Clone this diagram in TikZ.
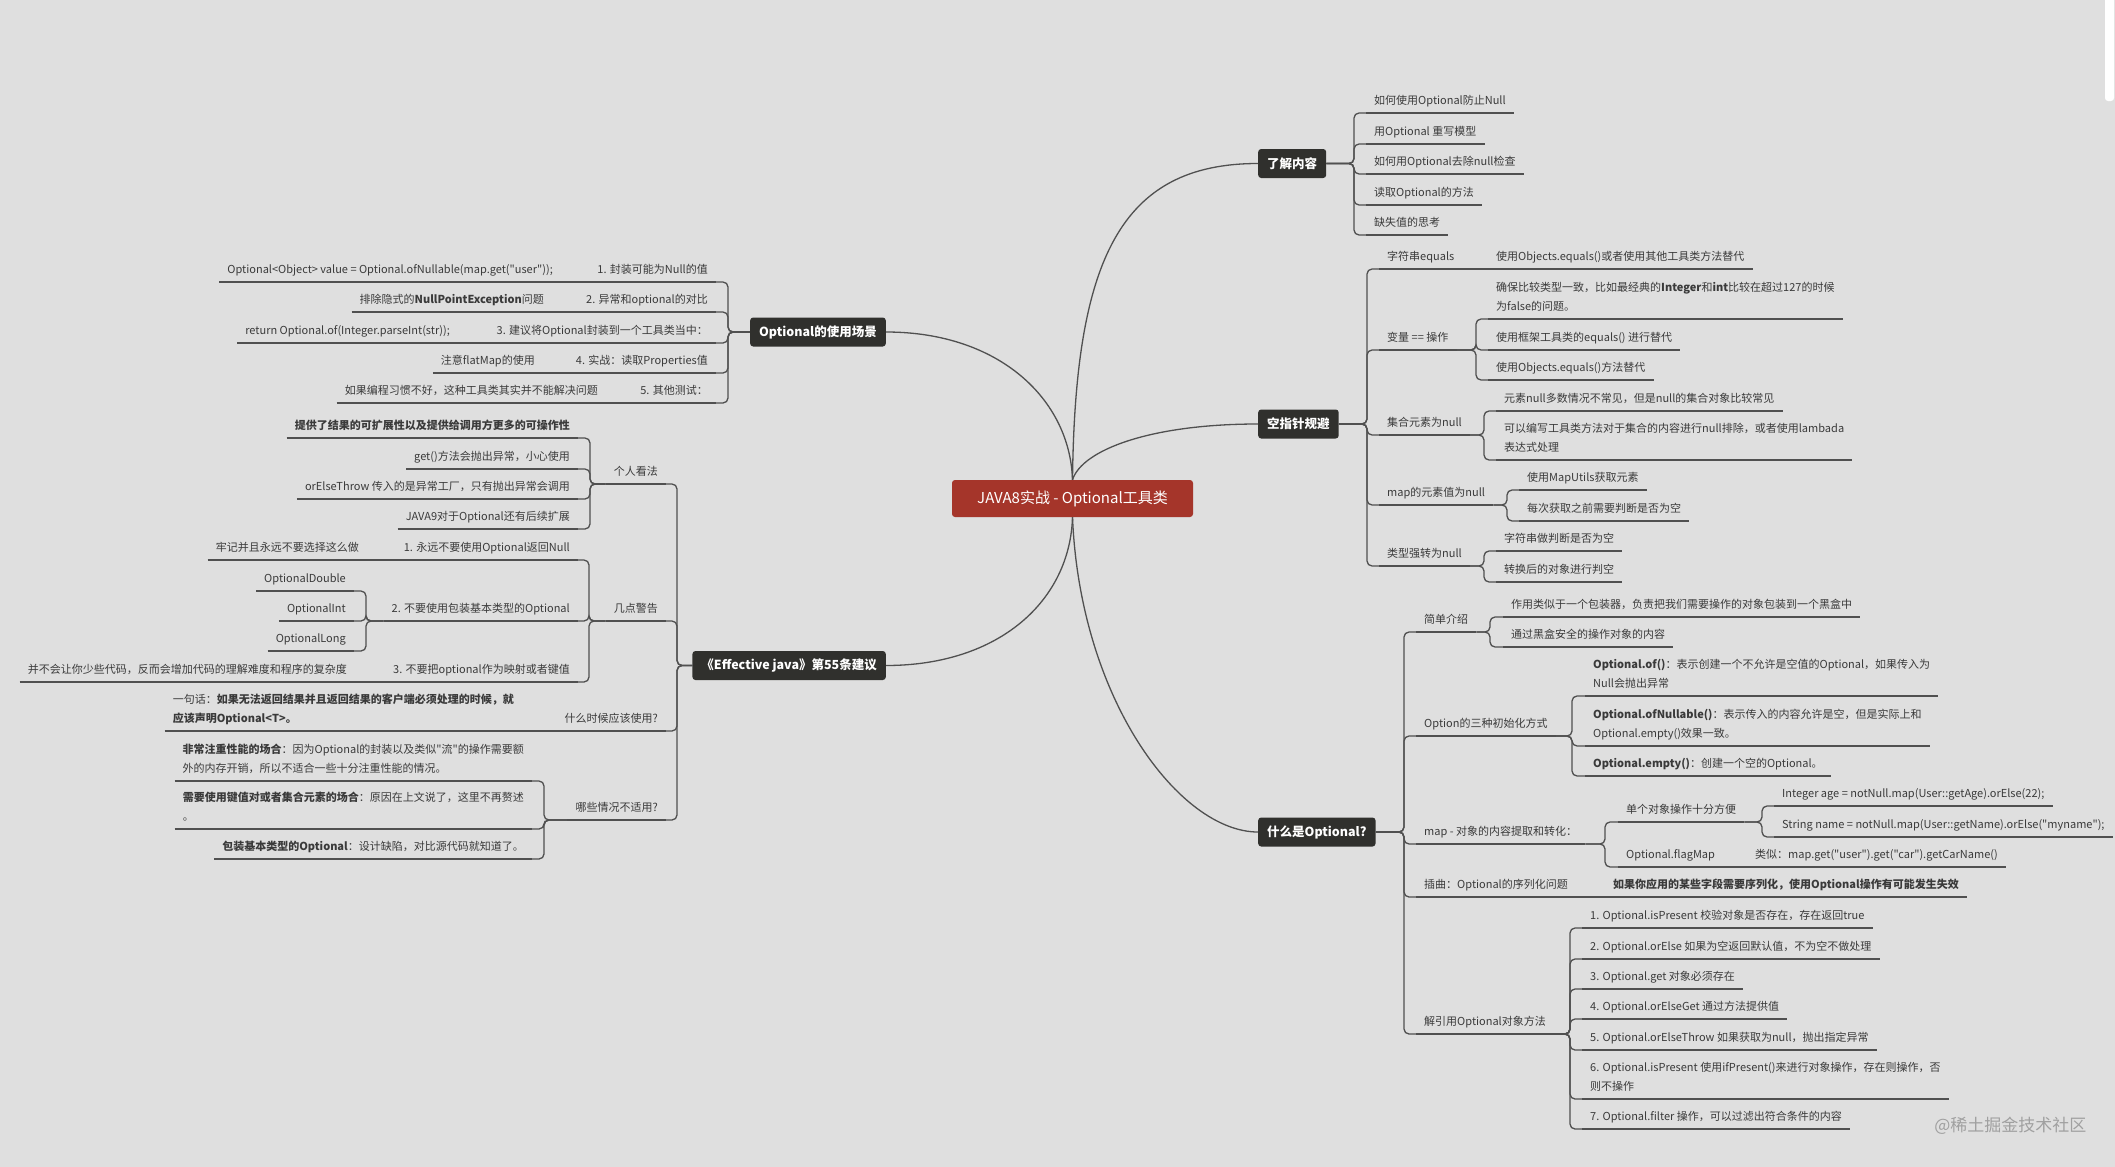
\documentclass[tikz,border=0pt]{standalone}
\usepackage{fontspec}
\setmainfont{Noto Sans CJK SC}[Ligatures=TeXOff]
\definecolor{bg}{HTML}{DFDFDF}
\definecolor{lc}{HTML}{505050}
\definecolor{dk}{HTML}{30302D}
\definecolor{rd}{HTML}{A5352A}
\definecolor{tc}{HTML}{3A3A3A}
\definecolor{wm}{HTML}{A0A0A0}
\newcommand\leaff{\fontsize{11}{19}\selectfont}
\newcommand\mainf{\fontsize{12.5}{15}\selectfont\bfseries}
\newcommand\cenf{\fontsize{15}{18}\selectfont}
\tikzset{
  ln/.style={draw=lc, line width=1.3pt},
  br/.style={ln, rounded corners=5pt},
  cen/.style={fill=rd, rounded corners=3pt, text=white, font=\cenf, minimum width=241pt, minimum height=37pt},
  mainR/.style={anchor=west, fill=dk, rounded corners=3pt, text=white, font=\mainf, minimum height=29pt, inner xsep=9pt},
  mainL/.style={mainR, anchor=east},
  leafR/.style={anchor=south west, inner xsep=8pt, inner ysep=2.5pt, font=\leaff, text=tc, align=left, execute at end node=\strut},
  leafL/.style={leafR, anchor=south east},
}
\begin{document}
\begin{tikzpicture}[x=1pt,y=-1pt]
\useasboundingbox (0,0) rectangle (2115,1167);
\fill[bg] (0,0) rectangle (2115,1167);
\fill[white, rounded corners=3pt] (2105,-5) rectangle (2114,101);

% centre and main topics
\node[cen] (c) at (1072.5,498.5) {JAVA8实战 - Optional工具类};
\node[mainR] (k1) at (1258,163.5) {了解内容};
\node[mainR] (k2) at (1258,424) {空指针规避};
\node[mainR] (k3) at (1258,832) {什么是Optional?};
\node[mainL] (L1) at (886,332) {Optional的使用场景};
\node[mainL] (L2) at (886,665.5) {《Effective java》第55条建议};

\draw[ln] (c.north) .. controls (1075,260) and (1120,163.5) .. (k1.west);
\draw[ln] (c.north) .. controls (1082,450) and (1150,424) .. (k2.west);
\draw[ln] (c.south) .. controls (1080,700) and (1180,832) .. (k3.west);
\draw[ln] (c.north) .. controls (1070,400) and (1000,332) .. (L1.east);
\draw[ln] (c.south) .. controls (1070,600) and (1000,665.5) .. (L2.east);

% ---------- 了解内容
\coordinate (sk1) at (1354,163.5);
\node[leafR] (k1a) at (1366,113) {如何使用Optional防止Null};
\node[leafR] (k1b) at (1366,144) {用Optional 重写模型};
\node[leafR] (k1c) at (1366,174) {如何用Optional去除null检查};
\node[leafR] (k1d) at (1366,205) {读取Optional的方法};
\node[leafR] (k1e) at (1366,235) {缺失值的思考};
\foreach \n in {k1a,k1b,k1c,k1d,k1e} \draw[br] (k1.east) -- (sk1) |- (\n.south west);

% ---------- 空指针规避
\coordinate (sk2) at (1367,424);
\node[leafR] (k2a) at (1379,269) {字符串equals};
\node[leafR] (k2b) at (1379,350) {变量 == 操作};
\node[leafR] (k2c) at (1379,435) {集合元素为null};
\node[leafR] (k2d) at (1379,505) {map的元素值为null};
\node[leafR] (k2e) at (1379,566) {类型强转为null};
\foreach \n in {k2a,k2b,k2c,k2d,k2e} \draw[br] (k2.east) -- (sk2) |- (\n.south west);

\node[leafR] (k2a1) at (1488,269) {使用Objects.equals()或者使用其他工具类方法替代};
\draw[ln] (k2a.south east) -- (k2a1.south west);

\coordinate (sk2b) at (1476,350);
\node[leafR] (k2b1) at (1488,319) {确保比较类型一致，比如最经典的\textbf{Integer}和\textbf{int}比较在超过127的时候\\为false的问题。};
\node[leafR] (k2b2) at (1488,350) {使用框架工具类的equals() 进行替代};
\node[leafR] (k2b3) at (1488,380) {使用Objects.equals()方法替代};
\foreach \n in {k2b1,k2b2,k2b3} \draw[br] (k2b.south east) -- (sk2b) |- (\n.south west);

\coordinate (sk2c) at (1484,435);
\node[leafR] (k2c1) at (1496,411) {元素null多数情况不常见，但是null的集合对象比较常见};
\node[leafR] (k2c2) at (1496,460) {可以编写工具类方法对于集合的内容进行null排除，或者使用lambada\\表达式处理};
\foreach \n in {k2c1,k2c2} \draw[br] (k2c.south east) -- (sk2c) |- (\n.south west);

\coordinate (sk2d) at (1507,505);
\node[leafR] (k2d1) at (1519,490) {使用MapUtils获取元素};
\node[leafR] (k2d2) at (1519,521) {每次获取之前需要判断是否为空};
\foreach \n in {k2d1,k2d2} \draw[br] (k2d.south east) -- (sk2d) |- (\n.south west);

\coordinate (sk2e) at (1484,566);
\node[leafR] (k2e1) at (1496,551) {字符串做判断是否为空};
\node[leafR] (k2e2) at (1496,582) {转换后的对象进行判空};
\foreach \n in {k2e1,k2e2} \draw[br] (k2e.south east) -- (sk2e) |- (\n.south west);

% ---------- 什么是Optional?
\coordinate (sk3) at (1404,832);
\node[leafR] (k3a) at (1416,632) {简单介绍};
\node[leafR] (k3b) at (1416,736) {Option的三种初始化方式};
\node[leafR] (k3c) at (1416,844) {map - 对象的内容提取和转化：};
\node[leafR] (k3d) at (1416,897) {插曲：Optional的序列化问题};
\node[leafR] (k3e) at (1416,1034) {解引用Optional对象方法};
\foreach \n in {k3a,k3b,k3c,k3d,k3e} \draw[br] (k3.east) -- (sk3) |- (\n.south west);

\coordinate (sk3a) at (1490,632);
\node[leafR] (k3a1) at (1503,617) {作用类似于一个包装器，负责把我们需要操作的对象包装到一个黑盒中};
\node[leafR] (k3a2) at (1503,647) {通过黑盒安全的操作对象的内容};
\foreach \n in {k3a1,k3a2} \draw[br] (k3a.south east) -- (sk3a) |- (\n.south west);

\coordinate (sk3b) at (1572,736);
\node[leafR] (k3b1) at (1585,696) {\textbf{Optional.of()}：表示创建一个不允许是空值的Optional，如果传入为\\Null会抛出异常};
\node[leafR] (k3b2) at (1585,746) {\textbf{Optional.ofNullable()}：表示传入的内容允许是空，但是实际上和\\Optional.empty()效果一致。};
\node[leafR] (k3b3) at (1585,776) {\textbf{Optional.empty()}：创建一个空的Optional。};
\foreach \n in {k3b1,k3b2,k3b3} \draw[br] (k3b.south east) -- (sk3b) |- (\n.south west);

\coordinate (sk3c) at (1605,844);
\node[leafR] (k3c1) at (1618,822) {单个对象操作十分方便};
\node[leafR] (k3c2) at (1618,867) {Optional.flagMap};
\foreach \n in {k3c1,k3c2} \draw[br] (k3c.south east) -- (sk3c) |- (\n.south west);
\coordinate (sk3c1) at (1762,822);
\node[leafR] (k3c1a) at (1774,806) {Integer age = notNull.map(User::getAge).orElse(22);};
\node[leafR] (k3c1b) at (1774,837) {String name = notNull.map(User::getName).orElse("myname");};
\foreach \n in {k3c1a,k3c1b} \draw[br] (k3c1.south east) -- (sk3c1) |- (\n.south west);
\node[leafR] (k3c2a) at (1747,867) {类似：map.get("user").get("car").getCarName()};
\draw[ln] (k3c2.south east) -- (k3c2a.south west);

\node[leafR] (k3d1) at (1605,897) {\textbf{如果你应用的某些字段需要序列化，使用Optional操作有可能发生失效}};
\draw[ln] (k3d.south east) -- (k3d1.south west);

\coordinate (sk3e) at (1570,1034);
\node[leafR] (k3e1) at (1582,928) {1. Optional.isPresent 校验对象是否存在，存在返回true};
\node[leafR] (k3e2) at (1582,959) {2. Optional.orElse 如果为空返回默认值，不为空不做处理};
\node[leafR] (k3e3) at (1582,989) {3. Optional.get 对象必须存在};
\node[leafR] (k3e4) at (1582,1019) {4. Optional.orElseGet 通过方法提供值};
\node[leafR] (k3e5) at (1582,1050) {5. Optional.orElseThrow 如果获取为null，抛出指定异常};
\node[leafR] (k3e6) at (1582,1099) {6. Optional.isPresent 使用ifPresent()来进行对象操作，存在则操作，否\\则不操作};
\node[leafR] (k3e7) at (1582,1129) {7. Optional.filter 操作，可以过滤出符合条件的内容};
\foreach \n in {k3e1,k3e2,k3e3,k3e4,k3e5,k3e6,k3e7} \draw[br] (k3e.south east) -- (sk3e) |- (\n.south west);

% ---------- Optional的使用场景
\coordinate (sL1) at (728,332);
\node[leafL] (L1a) at (716,282) {1. 封装可能为Null的值};
\node[leafL] (L1b) at (716,312) {2. 异常和optional的对比};
\node[leafL] (L1c) at (716,343) {3. 建议将Optional封装到一个工具类当中：};
\node[leafL] (L1d) at (716,373) {4. 实战：读取Properties值};
\node[leafL] (L1e) at (716,403) {5. 其他测试：};
\foreach \n in {L1a,L1b,L1c,L1d,L1e} \draw[br] (L1.west) -- (sL1) |- (\n.south east);
\node[leafL] (L1a1) at (561,282) {Optional<Object> value = Optional.ofNullable(map.get("user"));};
\node[leafL] (L1b1) at (552,312) {排除隐式的\textbf{NullPointException}问题};
\node[leafL] (L1c1) at (458,343) {return Optional.of(Integer.parseInt(str));};
\node[leafL] (L1d1) at (543,373) {注意flatMap的使用};
\node[leafL] (L1e1) at (606,403) {如果编程习惯不好，这种工具类其实并不能解决问题};
\foreach \p/\q in {L1a/L1a1,L1b/L1b1,L1c/L1c1,L1d/L1d1,L1e/L1e1} \draw[ln] (\p.south west) -- (\q.south east);

% ---------- Effective java
\coordinate (sL2) at (677,665.5);
\node[leafL] (L2a) at (666,484) {个人看法};
\node[leafL] (L2b) at (666,621) {几点警告};
\node[leafL] (L2c) at (666,731) {什么时候应该使用?};
\node[leafL] (L2d) at (666,820) {哪些情况不适用?};
\foreach \n in {L2a,L2b,L2c,L2d} \draw[br] (L2.west) -- (sL2) |- (\n.south east);

\coordinate (sL2a) at (590,484);
\node[leafL] (L2a1) at (578,438) {\textbf{提供了结果的可扩展性以及提供给调用方更多的可操作性}};
\node[leafL] (L2a2) at (578,469) {get()方法会抛出异常，小心使用};
\node[leafL] (L2a3) at (578,499) {orElseThrow 传入的是异常工厂，只有抛出异常会调用};
\node[leafL] (L2a4) at (578,529) {JAVA9对于Optional还有后续扩展};
\foreach \n in {L2a1,L2a2,L2a3,L2a4} \draw[br] (L2a.south west) -- (sL2a) |- (\n.south east);

\coordinate (sL2b) at (589,621);
\node[leafL] (L2b1) at (578,560) {1. 永远不要使用Optional返回Null};
\node[leafL] (L2b2) at (578,621) {2. 不要使用包装基本类型的Optional};
\node[leafL] (L2b3) at (578,682) {3. 不要把optional作为映射或者键值};
\foreach \n in {L2b1,L2b2,L2b3} \draw[br] (L2b.south west) -- (sL2b) |- (\n.south east);
\node[leafL] (L2b11) at (367,560) {牢记并且永远不要选择这么做};
\draw[ln] (L2b1.south west) -- (L2b11.south east);
\coordinate (sL2b2) at (366,621);
\node[leafL] (L2b21) at (354,591) {OptionalDouble};
\node[leafL] (L2b22) at (354,621) {OptionalInt};
\node[leafL] (L2b23) at (354,651) {OptionalLong};
\foreach \n in {L2b21,L2b22,L2b23} \draw[br] (L2b2.south west) -- (sL2b2) |- (\n.south east);
\node[leafL] (L2b31) at (355,682) {并不会让你少些代码，反而会增加代码的理解难度和程序的复杂度};
\draw[ln] (L2b3.south west) -- (L2b31.south east);

\node[leafL] (L2c1) at (522,731) {一句话：\textbf{如果无法返回结果并且返回结果的客户端必须处理的时候，就}\\\textbf{应该声明Optional<T>。}};
\draw[ln] (L2c.south west) -- (L2c1.south east);

\coordinate (sL2d) at (544,820);
\node[leafL] (L2d1) at (532,781) {\textbf{非常注重性能的场合}：因为Optional的封装以及类似"流"的操作需要额\\外的内存开销，所以不适合一些十分注重性能的情况。};
\node[leafL] (L2d2) at (532,829) {\textbf{需要使用键值对或者集合元素的场合}：原因在上文说了，这里不再赘述\\。};
\node[leafL] (L2d3) at (532,859) {\textbf{包装基本类型的Optional}：设计缺陷，对比源代码就知道了。};
\foreach \n in {L2d1,L2d2,L2d3} \draw[br] (L2d.south west) -- (sL2d) |- (\n.south east);

% underlines
\foreach \n in {k1a,k1b,k1c,k1d,k1e,k2a,k2a1,k2b,k2b1,k2b2,k2b3,k2c,k2c1,k2c2,k2d,k2d1,k2d2,k2e,k2e1,k2e2,
  k3a,k3a1,k3a2,k3b,k3b1,k3b2,k3b3,k3c,k3c1,k3c1a,k3c1b,k3c2,k3c2a,k3d,k3d1,k3e,k3e1,k3e2,k3e3,k3e4,k3e5,k3e6,k3e7,
  L1a,L1b,L1c,L1d,L1e,L1a1,L1b1,L1c1,L1d1,L1e1,L2a,L2a1,L2a2,L2a3,L2a4,L2b,L2b1,L2b11,L2b2,L2b21,L2b22,L2b23,L2b3,L2b31,
  L2c,L2c1,L2d,L2d1,L2d2,L2d3}
  \draw[ln] (\n.south west) -- (\n.south east);

\node[anchor=east, text=wm, font=\fontsize{17}{20}\selectfont] (wmk) at (2090,1126) {@稀土掘金技术社区};
\end{tikzpicture}
\end{document}
